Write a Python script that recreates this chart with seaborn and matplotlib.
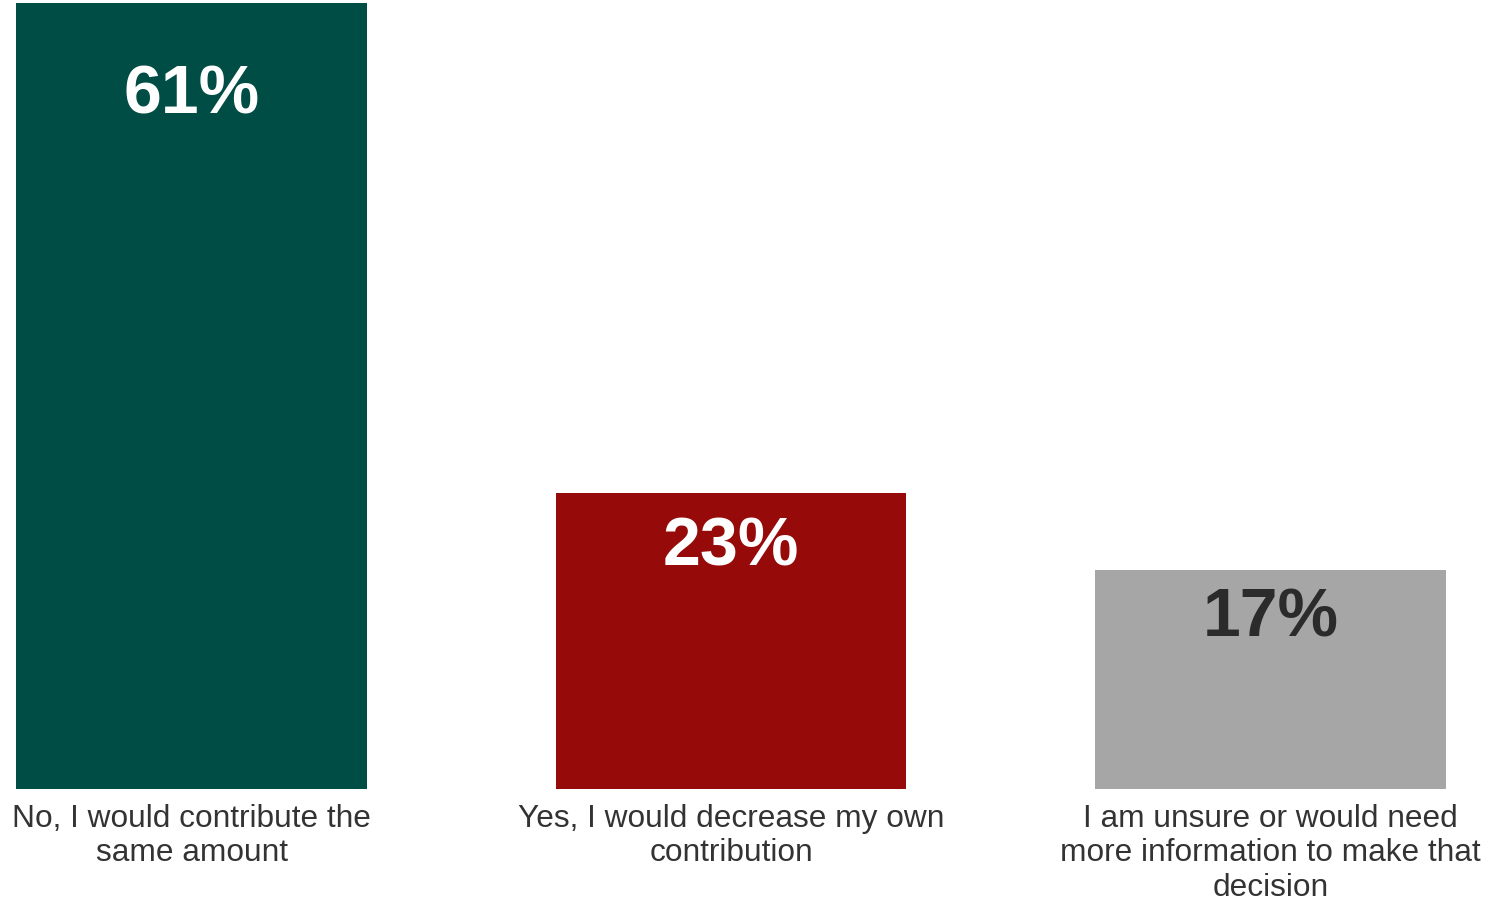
import matplotlib
matplotlib.use("Agg")
import matplotlib.pyplot as plt
import seaborn as sns
import pandas as pd

categories = [
    "No, I would contribute the\nsame amount",
    "Yes, I would decrease my own\ncontribution",
    "I am unsure or would need\nmore information to make that\ndecision",
]
values = [61, 23, 17]
bar_colors = ["#004D45", "#960A0A", "#A6A6A6"]
label_colors = ["#FFFFFF", "#FFFFFF", "#2B2B2B"]
label_offsets_px = [92, 54, 48]

sns.set_theme(style="white")
plt.rcParams["font.family"] = ["Liberation Sans", "DejaVu Sans"]

df = pd.DataFrame({"category": categories, "value": values})

fig = plt.figure(figsize=(15.06, 9.03), dpi=100)
ax = fig.add_axes([0, (903 - 790) / 903, 1, 786 / 903])

sns.barplot(data=df, x="category", y="value", hue="category",
            palette=bar_colors, width=0.65, legend=False, ax=ax,
            saturation=1, linewidth=0)

ax.set_ylim(0, 61)
ax.set_xlim(-191.5 / 539.5, (1506 - 191.5) / 539.5)
ax.set_xlabel("")
ax.set_ylabel("")
ax.set_yticks([])
for s in ax.spines.values():
    s.set_visible(False)
ax.tick_params(axis="x", length=0, pad=10, labelsize=22.8, labelcolor="#333333")
for lbl in ax.get_xticklabels():
    lbl.set_linespacing(1.2)
    lbl.set_verticalalignment("top")

for i, (v, c, off) in enumerate(zip(values, label_colors, label_offsets_px)):
    ax.annotate(f"{v}%", xy=(i, v), xytext=(0, -off * 0.72),
                textcoords="offset points", ha="center", va="center",
                fontsize=49, fontweight="bold", color=c)

fig.savefig("out.png", dpi=100)
